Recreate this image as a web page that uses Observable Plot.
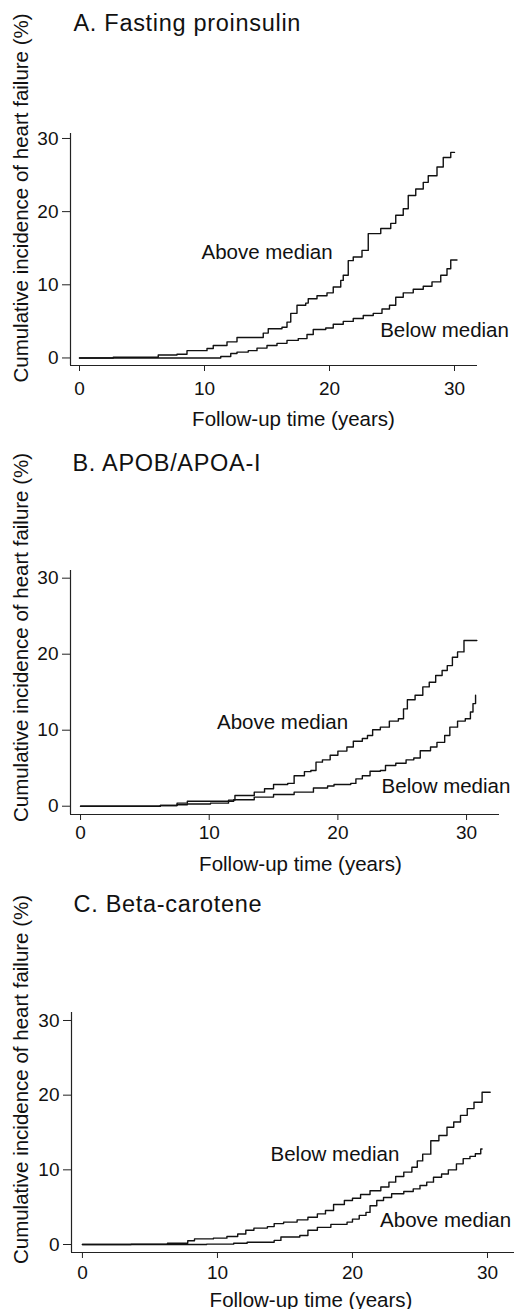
<!DOCTYPE html>
<html><head><meta charset="utf-8">
<script src="https://cdn.jsdelivr.net/npm/d3@7"></script>
<script src="https://cdn.jsdelivr.net/npm/@observablehq/plot@0.6"></script>
<style>
html,body{margin:0;padding:0;background:#fff;overflow:hidden;}
#chart svg{display:block;}
</style></head><body><div id="chart"></div>
<script>
// ---- text ----
const panelTitles = ["A. Fasting proinsulin", "B. APOB/APOA-I", "C. Beta-carotene"];
const yAxisLabel = "Cumulative incidence of heart failure (%)";
const xAxisLabel = "Follow-up time (years)";
const seriesNames = ["Above median", "Below median"];
const xTicks = [0, 10, 20, 30];
const yTicks = [0, 10, 20, 30];

// ---- Panel A: fasting proinsulin ----
const aAboveT = [0, 2.7, 6.3, 7.8, 8.6, 10.2, 10.7, 11.8, 12.6, 14.7, 15.1, 16.2, 16.6, 16.9, 17.4, 18.1, 18.3, 19.0, 19.8, 20.3, 20.9, 21.1, 21.5, 21.9, 22.6, 23.1, 24.1, 24.9, 25.3, 25.9, 26.3, 26.9, 27.5, 27.9, 28.6, 29.1, 29.7, 30.0];
const aAboveV = [0, 0.1, 0.4, 0.5, 1.0, 1.3, 1.7, 2.2, 2.8, 3.4, 4.0, 4.2, 4.9, 6.1, 7.2, 7.5, 8.1, 8.5, 8.9, 9.7, 10.6, 11.3, 13.3, 13.8, 14.7, 17.0, 17.7, 18.4, 19.5, 20.4, 22.2, 23.1, 24.0, 24.9, 26.1, 27.4, 28.1, 28.1];
const aBelowT = [0, 11.0, 11.3, 12.1, 12.6, 13.5, 14.2, 15.0, 15.8, 16.6, 17.5, 18.2, 18.7, 19.7, 20.3, 21.1, 21.9, 22.7, 23.5, 24.2, 24.8, 25.3, 25.9, 26.7, 27.5, 28.2, 28.9, 29.4, 29.7, 30.2];
const aBelowV = [0, 0, 0.2, 0.6, 0.8, 1.0, 1.35, 1.7, 2.0, 2.4, 2.65, 3.2, 3.9, 4.1, 4.6, 5.0, 5.4, 5.8, 6.1, 6.7, 7.2, 8.3, 8.9, 9.4, 9.8, 10.4, 11.3, 12.2, 13.4, 13.4];
const aLabelT = [15.0, 29.2];
const aLabelV = [14.4, 3.75];

// ---- Panel B: APOB/APOA-I ----
const bAboveT = [0, 6.2, 7.5, 8.3, 10.1, 11.5, 12.0, 13.5, 14.3, 15.0, 16.1, 16.6, 17.4, 17.9, 18.3, 18.8, 19.4, 20.0, 20.7, 21.2, 21.9, 22.3, 22.7, 23.3, 24.0, 24.7, 25.1, 25.4, 26.0, 26.6, 27.1, 27.6, 28.1, 28.5, 28.9, 29.3, 29.8, 30.8];
const bAboveV = [0, 0.1, 0.2, 0.3, 0.4, 0.8, 1.4, 1.85, 2.3, 2.85, 3.0, 4.0, 4.55, 4.7, 5.8, 6.1, 6.7, 7.25, 7.8, 8.55, 8.9, 9.3, 10.05, 10.4, 11.2, 11.5, 12.8, 14.0, 14.6, 15.7, 16.3, 17.2, 17.85, 18.5, 19.6, 20.3, 21.8, 21.8];
const bBelowT = [0, 6.2, 7.5, 8.3, 11.9, 13.5, 15.0, 16.6, 18.1, 19.2, 19.7, 21.0, 21.4, 21.9, 22.5, 23.3, 23.7, 24.5, 25.3, 25.9, 26.4, 27.2, 27.7, 28.3, 28.7, 29.3, 29.9, 30.3, 30.5, 30.7];
const bBelowV = [0, 0.1, 0.4, 0.66, 0.85, 1.2, 1.55, 1.85, 2.4, 2.65, 2.85, 3.0, 3.6, 4.0, 4.6, 4.7, 5.35, 5.65, 6.1, 6.35, 7.3, 7.8, 8.4, 9.3, 10.4, 11.2, 11.5, 12.4, 13.5, 14.6];
const bLabelT = [15.7, 28.4];
const bLabelV = [11.0, 2.65];

// ---- Panel C: beta-carotene ----
const cAboveT = [0, 9.2, 11.2, 12.2, 14.2, 14.7, 16.1, 16.7, 17.4, 18.4, 19.6, 20.0, 20.5, 21.0, 21.3, 21.8, 22.3, 22.9, 23.8, 24.5, 25.0, 25.5, 26.0, 26.6, 27.1, 27.7, 28.2, 28.7, 29.1, 29.5, 29.6];
const cAboveV = [0, 0.05, 0.17, 0.3, 0.55, 1.0, 1.2, 1.9, 2.3, 2.7, 3.0, 3.4, 3.9, 4.3, 5.2, 5.9, 6.3, 6.8, 7.1, 7.45, 7.9, 8.35, 9.0, 9.45, 10.0, 10.8, 11.5, 11.8, 12.15, 12.8, 12.8];
const cBelowT = [0, 3.6, 6.3, 7.8, 8.3, 9.7, 10.7, 11.5, 12.1, 12.7, 13.7, 14.2, 14.9, 15.9, 16.7, 17.4, 18.0, 18.6, 19.4, 20.0, 20.6, 21.3, 22.1, 22.7, 23.2, 23.8, 24.4, 24.8, 25.2, 25.8, 26.4, 27.0, 27.5, 28.0, 28.5, 29.0, 29.6, 30.2];
const cBelowV = [0, 0.05, 0.17, 0.5, 0.75, 0.85, 1.07, 1.4, 1.9, 2.2, 2.4, 2.8, 3.0, 3.3, 3.65, 4.1, 4.55, 5.35, 5.9, 6.2, 6.7, 7.2, 7.7, 8.35, 9.1, 9.7, 10.35, 11.2, 12.1, 13.9, 14.6, 15.7, 16.4, 17.3, 18.2, 19.05, 20.4, 20.4];
const cLabelT = [26.9, 18.7];
const cLabelV = [3.2, 12.0];

// ---- layout (positions/sizes) ----
const FONT = "'Liberation Sans', Arial, Helvetica, sans-serif";
const layouts = [
  {height: 437, mt: 133, mb: 72, ml: 70, mr: 37, xd: [-0.72, 31.84], yd: [-1.03, 30.68], xpad: 10, tdx: 3, tdy: -103, ydy: 64.5, xlx: 293, xldy: 60},
  {height: 442, mt: 133, mb: 65, ml: 70, mr: 15, xd: [-0.78, 32.56], yd: [-1.09, 31.01], xpad: 5, tdx: 2, tdy: -100, ydy: 67, xlx: 300, xldy: 56},
  {height: 430, mt: 133, mb: 57, ml: 71, mr: 0, xd: [-0.81, 32.0], yd: [-1.07, 31.07], xpad: 7, tdx: 2, tdy: -101, ydy: 67, xlx: 310.5, xldy: 54}
];

function rowsOf(name, T, V) { return T.map((t, j) => ({name, t, v: V[j]})); }
function labelsOf(T, V) { return seriesNames.map((name, j) => ({name, t: T[j], v: V[j]})); }

const panels = [
  {rows: [...rowsOf(seriesNames[0], aAboveT, aAboveV), ...rowsOf(seriesNames[1], aBelowT, aBelowV)], labels: labelsOf(aLabelT, aLabelV)},
  {rows: [...rowsOf(seriesNames[0], bAboveT, bAboveV), ...rowsOf(seriesNames[1], bBelowT, bBelowV)], labels: labelsOf(bLabelT, bLabelV)},
  {rows: [...rowsOf(seriesNames[0], cAboveT, cAboveV), ...rowsOf(seriesNames[1], cBelowT, cBelowV)], labels: labelsOf(cLabelT, cLabelV)}
];

const chart = document.getElementById("chart");
panels.forEach((p, i) => {
  const L = layouts[i];
  const svg = Plot.plot({
    width: 514, height: L.height,
    marginTop: L.mt, marginBottom: L.mb, marginLeft: L.ml, marginRight: L.mr,
    style: {fontFamily: FONT, fontSize: "19px", color: "#111", background: "#fff"},
    x: {domain: L.xd},
    y: {domain: L.yd},
    marks: [
      Plot.ruleX([L.xd[0]], {stroke: "#222", strokeWidth: 1.2}),
      Plot.ruleY([L.yd[0]], {stroke: "#222", strokeWidth: 1.2}),
      Plot.axisY({ticks: yTicks, tickSize: 8, tickPadding: 4, label: null, fontSize: 19, stroke: "#222"}),
      Plot.axisX({ticks: xTicks, tickSize: 6, tickPadding: L.xpad, label: null, fontSize: 19, stroke: "#222"}),
      Plot.line(p.rows, {x: "t", y: "v", z: "name", curve: "step-after", stroke: "#111", strokeWidth: 1.4}),
      Plot.text(p.labels, {x: "t", y: "v", text: "name", fontSize: 20.5, textAnchor: "middle", lineAnchor: "middle", fill: "#111"}),
      Plot.text([panelTitles[i]], {text: d => d, frameAnchor: "top-left", dx: L.tdx, dy: L.tdy, textAnchor: "start", lineAnchor: "bottom", fontSize: 23.5, fill: "#111"}),
      Plot.text([yAxisLabel], {text: d => d, frameAnchor: "top-left", dx: 21 - L.ml, dy: L.ydy, rotate: -90, textAnchor: "middle", lineAnchor: "middle", fontSize: 20.5, fill: "#111"}),
      Plot.text([xAxisLabel], {text: d => d, frameAnchor: "bottom-left", dx: L.xlx - L.ml, dy: L.xldy, textAnchor: "middle", lineAnchor: "bottom", fontSize: 20.5, fill: "#111"})
    ]
  });
  d3.select(svg).selectAll("text").filter(function() { return this.textContent === panelTitles[i]; }).style("letter-spacing", "0.7px");
  chart.appendChild(svg);
});
</script></body></html>
